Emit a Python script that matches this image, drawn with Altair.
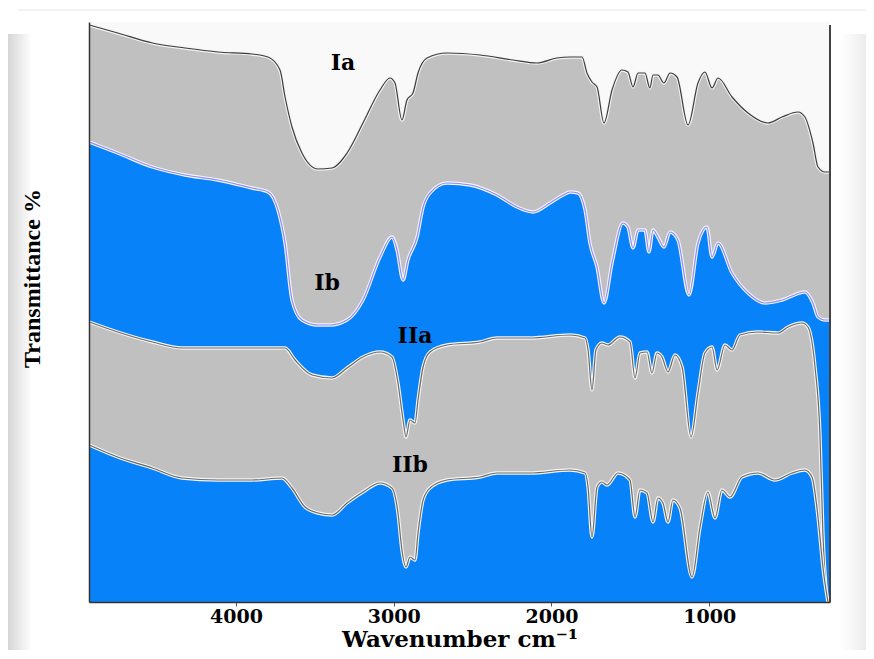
import altair as alt
import pandas as pd

# ---- spectra (wavenumber cm-1, offset transmittance, arbitrary units) ----
ia_wn = [4930, 4750, 4530, 4323, 4114, 3899, 3797, 3721, 3689, 3645, 3582, 3480, 3391, 3296, 3195,
         3087, 3024, 2992, 2948, 2916, 2878, 2846, 2789, 2662, 2453, 2244, 2092, 1965, 1882, 1806,
         1775, 1743, 1711, 1667, 1616, 1553, 1515, 1483, 1451, 1407, 1376, 1356, 1325, 1287, 1248,
         1204, 1134, 1071, 1027, 982, 944, 855, 754, 627, 538, 437, 393, 342, 310, 266, 234]
ia_t = [577, 569, 559, 554, 550, 548, 545, 532, 505, 475, 449, 433, 434, 449, 479,
        512, 524, 519, 482, 502, 509, 529, 544, 549, 547, 542, 539, 544, 545, 545,
        529, 520, 515, 479, 512, 532, 530, 515, 529, 529, 514, 527, 527, 519, 529,
        525, 477, 519, 530, 514, 524, 505, 489, 479, 485, 490, 485, 459, 435, 430, 430]

ib_wn = [4930, 4750, 4530, 4323, 4114, 3899, 3797, 3734, 3689, 3645, 3582, 3480, 3404, 3296, 3195,
         3087, 3011, 2979, 2941, 2910, 2852, 2814, 2770, 2662, 2516, 2345, 2218, 2117, 2009, 1927,
         1882, 1832, 1787, 1756, 1711, 1667, 1616, 1547, 1515, 1483, 1451, 1407, 1382, 1356, 1325,
         1287, 1248, 1198, 1128, 1071, 1014, 982, 944, 855, 754, 646, 538, 393, 342, 310, 266, 234]
ib_t = [460, 449, 435, 427, 422, 414, 410, 392, 359, 302, 282, 277, 277, 282, 302,
        345, 365, 352, 322, 342, 365, 395, 409, 419, 417, 407, 395, 390, 399, 407,
        410, 409, 392, 359, 335, 299, 339, 379, 375, 354, 372, 372, 350, 372, 365,
        355, 370, 362, 307, 359, 375, 345, 359, 329, 309, 299, 302, 310, 299, 285, 282, 282]

iia_wn = [4930, 4750, 4530, 4342, 4114, 3899, 3689, 3626, 3518, 3391, 3296, 3195, 3087, 3011, 2973,
          2941, 2922, 2897, 2865, 2846, 2814, 2770, 2662, 2453, 2345, 2136, 1882, 1787, 1768, 1743,
          1718, 1680, 1642, 1566, 1502, 1470, 1439, 1394, 1363, 1331, 1299, 1261, 1217, 1172, 1115,
          1071, 1027, 982, 950, 900, 855, 805, 691, 564, 500, 412, 374, 329, 298, 279, 253]
iia_t = [280, 270, 260, 254, 254, 254, 254, 242, 227, 224, 234, 245, 250, 245, 219,
         182, 165, 182, 179, 202, 235, 250, 257, 260, 264, 264, 267, 264, 252, 212,
         252, 259, 257, 265, 260, 224, 249, 250, 229, 249, 245, 230, 247, 235, 165,
         209, 249, 255, 232, 257, 252, 267, 270, 269, 275, 279, 275, 235, 169, 69, 0]

iib_wn = [4930, 4750, 4530, 4342, 4114, 3899, 3708, 3645, 3563, 3480, 3391, 3296, 3195, 3087, 3011,
          2973, 2948, 2922, 2897, 2865, 2846, 2814, 2770, 2662, 2453, 2345, 2136, 1882, 1787, 1768,
          1743, 1711, 1680, 1648, 1578, 1502, 1470, 1439, 1394, 1356, 1325, 1293, 1261, 1230, 1185,
          1109, 1058, 1008, 963, 919, 868, 792, 691, 583, 475, 393, 348, 310, 279, 247]
iib_t = [157, 145, 134, 124, 122, 122, 124, 114, 95, 89, 87, 99, 110, 119, 114,
         89, 52, 35, 45, 42, 69, 102, 114, 122, 125, 129, 129, 132, 129, 115,
         65, 115, 120, 117, 129, 122, 85, 112, 109, 80, 104, 99, 80, 102, 94,
         25, 75, 110, 84, 112, 105, 125, 129, 122, 129, 132, 125, 85, 35, 0]

# ---- sample labels ----
label_text = ["Ia", "Ib", "IIa", "IIb"]
label_wn = [3322, 3423, 2865, 2897]
label_t = [539, 319, 266, 137]

x_ticks = [4000, 3000, 2000, 1000]

GRAY = "#c0c0c0"
BLUE = "#0882f8"

x_scale = alt.Scale(domain=[234, 4932], reverse=True, nice=False, zero=False)
y_scale = alt.Scale(domain=[0, 580], nice=False, zero=False)

x_axis = alt.Axis(values=x_ticks, format="d", grid=False, zindex=2,
                  labelFont="DejaVu Serif", labelFontWeight="bold", labelFontSize=19,
                  labelColor="black", labelPadding=1, tickSize=4, tickColor="#555",
                  domainColor="#333", domainWidth=1.5,
                  title="Wavenumber cm\u207b\u00b9", titleFont="DejaVu Serif",
                  titleFontWeight="bold", titleFontSize=23, titleColor="black",
                  titlePadding=2)
y_axis = alt.Axis(labels=False, ticks=False, grid=False, zindex=2,
                  domainColor="#333", domainWidth=1.5,
                  title="Transmittance %", titleFont="Liberation Serif",
                  titleFontWeight="bold", titleFontSize=24, titleColor="black",
                  titleX=-57, titleY=256, titleBaseline="middle")

X = alt.X("wn:Q", scale=x_scale, axis=x_axis)
Y = alt.Y("t:Q", scale=y_scale, axis=y_axis)


def spectrum(wn, t, fill, line_color):
    df = pd.DataFrame({"wn": wn, "t": t})
    base = alt.Chart(df).encode(x=X, y=Y)
    area = base.mark_area(color=fill, interpolate="monotone", opacity=1).encode(y2=alt.datum(0))
    halo = base.mark_line(color="#f4f4f4", strokeWidth=3.4, interpolate="monotone")
    line = base.mark_line(color=line_color, strokeWidth=1.2, interpolate="monotone")
    return [area, halo, line]


one = pd.DataFrame({"a": [0]})

# decorative picture frame (bevel) around the figure
frame_left = alt.Chart(one).mark_rect(
    color=alt.LinearGradient(gradient="linear", x1=0, x2=1, y1=0, y2=0,
                             stops=[alt.GradientStop(color="#d6d6d6", offset=0),
                                    alt.GradientStop(color="#fbfbfb", offset=1)])
).encode(x=alt.value(-81), x2=alt.value(-59), y=alt.value(12), y2=alt.value(628))
frame_right = alt.Chart(one).mark_rect(
    color=alt.LinearGradient(gradient="linear", x1=0, x2=1, y1=0, y2=0,
                             stops=[alt.GradientStop(color="#ffffff", offset=0),
                                    alt.GradientStop(color="#ececec", offset=1)])
).encode(x=alt.value(752), x2=alt.value(777), y=alt.value(12), y2=alt.value(628))
frame_top = alt.Chart(one).mark_rule(color="#e6e6e6", strokeWidth=1).encode(
    x=alt.value(-71), x2=alt.value(777), y=alt.value(-12))

layers = [frame_left, frame_right, frame_top]
layers += spectrum(ia_wn, ia_t, GRAY, "#3c3c3c")
layers += spectrum(ib_wn, ib_t, BLUE, "#8c8cff")
layers += spectrum(iia_wn, iia_t, GRAY, "#6a6a6a")
layers += spectrum(iib_wn, iib_t, BLUE, "#6a6a6a")

labels_df = pd.DataFrame({"wn": label_wn, "t": label_t, "label": label_text})
labels = alt.Chart(labels_df).mark_text(
    font="DejaVu Serif", fontWeight="bold", fontSize=22, color="black",
    align="center", baseline="middle"
).encode(x=X, y=Y, text="label:N")

right_border = alt.Chart(one).mark_rule(
    color="#444", strokeWidth=2
).encode(x=alt.value(741), y=alt.value(3), y2=alt.value(580))

chart = alt.layer(*layers, labels, right_border).properties(
    width=741, height=580,
    autosize=alt.AutoSizeParams(type="none"),
    padding={"left": 81, "top": 14, "right": 36, "bottom": 49},
    background="white",
).configure_view(stroke=None, fill="#f9f9f9")

chart.save("out.html", embed_options={"renderer": "svg", "actions": False})
